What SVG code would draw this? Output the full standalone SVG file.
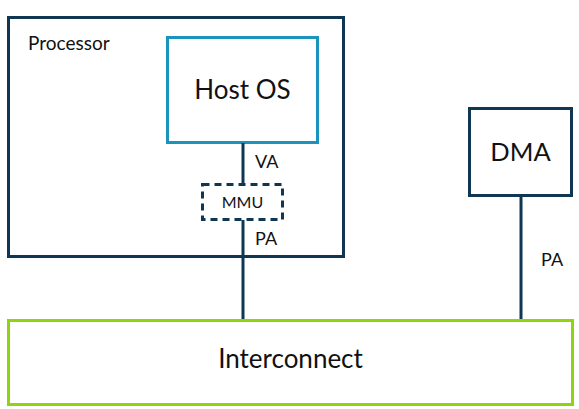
<svg xmlns="http://www.w3.org/2000/svg" width="579" height="409" viewBox="0 0 579 409">
<style>
.box{fill:#fff;stroke:#0f3652;stroke-width:3}
.conn{stroke:#0f3652;stroke-width:3;fill:none}
text{font-family:Lato,"Liberation Sans",sans-serif;fill:#111}
</style>
<rect width="579" height="409" fill="#fff"/>
<g id="processor">
<rect class="box" x="8.5" y="17.5" width="335" height="239"/>
<text x="28" y="50" font-size="19">Processor</text>
</g>
<g id="hostos">
<rect x="167.5" y="37.5" width="150" height="105" fill="#fff" stroke="#1a93bd" stroke-width="3"/>
<text x="242.5" y="99" font-size="26" text-anchor="middle">Host OS</text>
</g>
<g id="connectors">
<line class="conn" x1="243" y1="143" x2="243" y2="184"/>
<line class="conn" x1="243" y1="220" x2="243" y2="320"/>
<line class="conn" x1="521" y1="196" x2="521" y2="320"/>
<text x="255" y="168" font-size="18">VA</text>
<text x="255" y="245" font-size="18">PA</text>
<text x="541" y="266" font-size="18">PA</text>
</g>
<g id="mmu">
<rect x="202.5" y="184.5" width="80" height="35" fill="#fff" stroke="#0f3652" stroke-width="3" stroke-dasharray="7 5"/>
<text x="242.5" y="208" font-size="16" text-anchor="middle">MMU</text>
</g>
<g id="dma">
<rect class="box" x="469.5" y="108.5" width="102" height="87"/>
<text x="520.5" y="161" font-size="25.5" text-anchor="middle">DMA</text>
</g>
<g id="interconnect">
<rect x="8.5" y="320.5" width="564" height="84" fill="#fff" stroke="#8fd40f" stroke-width="3"/>
<text x="290.5" y="368" font-size="26" text-anchor="middle">Interconnect</text>
</g>
</svg>
